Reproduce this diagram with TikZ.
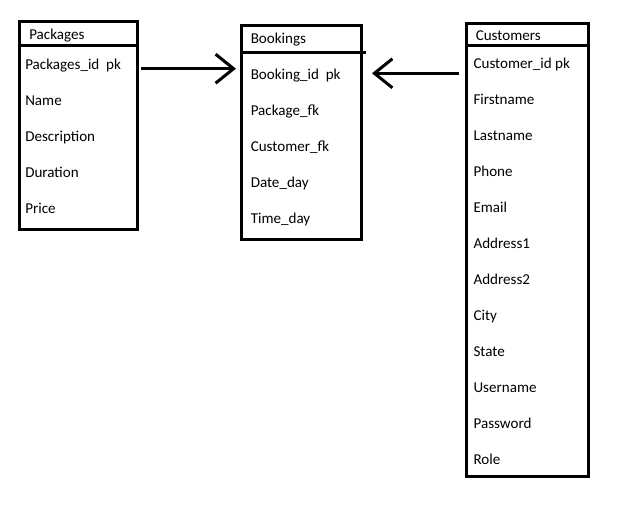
\documentclass[tikz,border=0pt]{standalone}
\usepackage{fontspec}
\setmainfont{Carlito}
\usetikzlibrary{arrows.meta,fit,positioning}

\tikzset{
  tbl/.style={draw, line width=2.25pt, inner sep=0pt, outer sep=0pt},
  sep/.style={line width=2.25pt},
  field/.style={anchor=base west, inner sep=0pt, font=\fontsize{11.3}{13}\selectfont},
  rel/.style={line width=2.25pt, -{Straight Barb[length=13.5pt, width=21.75pt]}}
}

\begin{document}
\begin{tikzpicture}[x=0.75pt, y=-0.75pt]
    \useasboundingbox (0,0) rectangle (628,520);

    % Table 1: Packages
    \node[tbl, fit={(19.5,21.5) (137.5,230)}] (packages) {};
    \draw[sep] (19.5,45.3) -- (139,45.3);
    \node[field] (packagesHead) at (29,40) {Packages};
    \node[field] (pkgId) at (25,69.5) {Packages\_id\ \ pk};
    \node[field] (pkgName) at (25,105.5) {Name};
    \node[field] (pkgDesc) at (25,141.5) {Description};
    \node[field] (pkgDur) at (25,177.5) {Duration};
    \node[field] (pkgPrice) at (25,213.5) {Price};

    % Table 2: Bookings
    \node[tbl, fit={(241.7,25.7) (361,240)}] (bookings) {};
    \draw[sep] (241.7,52.5) -- (366,52.5);
    \node[field] (bookingsHead) at (250.5,43.5) {Bookings};
    \node[field] (bkId) at (250.5,79.5) {Booking\_id\ \ pk};
    \node[field] (bkPkg) at (250.5,115.5) {Package\_fk};
    \node[field] (bkCust) at (250.5,151.5) {Customer\_fk};
    \node[field] (bkDate) at (250.5,187.5) {Date\_day};
    \node[field] (bkTime) at (250.5,223.5) {Time\_day};

    % Table 3: Customers
    \node[tbl, fit={(466,24) (588.3,476)}] (customers) {};
    \draw[sep] (466,45.3) -- (588.3,45.3);
    \node[field] (customersHead) at (475.5,41) {Customers};
    \foreach \name [count=\i from 0] in {Customer\_id pk, Firstname, Lastname, Phone,
        Email, Address1, Address2, City, State, Username, Password, Role}
        \node[field] (cust\i) at (473.3,68.5+36*\i) {\name};

    % Relations
    \draw[rel] ([xshift=2.6pt]packages.east |- 0,68.7) -- ([xshift=-4.3pt]bookings.west |- 0,68.7);
    \draw[rel] ([xshift=-5.25pt]customers.west |- 0,73.3) -- ([xshift=8.25pt]bookings.east |- 0,73.3);
\end{tikzpicture}
\end{document}
